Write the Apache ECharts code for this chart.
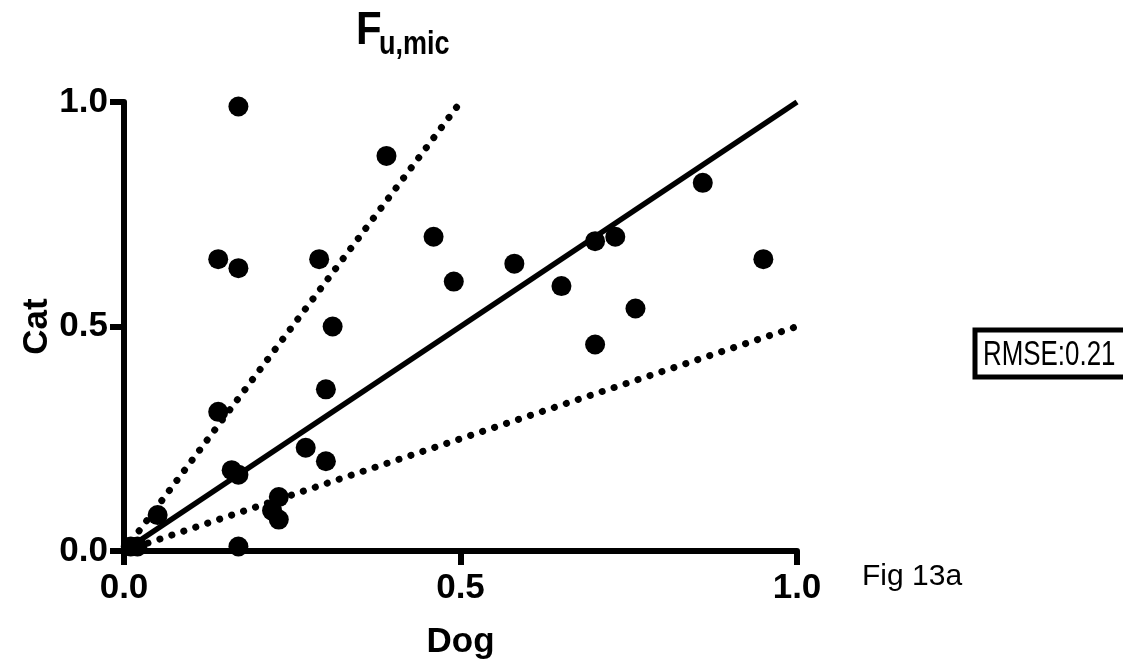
<!DOCTYPE html>
<html>
<head>
<meta charset="utf-8">
<script src="https://cdn.jsdelivr.net/npm/echarts@6/dist/echarts.min.js"></script>
<style>
html,body{margin:0;padding:0;background:#fff;}
#chart{width:1123px;height:669px;}
</style>
</head>
<body>
<div id="chart"></div>
<script>
// Data (Dog = x, Cat = y)
const dogValues = [0.17, 0.39, 0.14, 0.17, 0.29, 0.46, 0.49, 0.31, 0.30, 0.14, 0.16, 0.17, 0.27, 0.30, 0.23, 0.22, 0.23, 0.05, 0.02, 0.01, 0.17, 0.58, 0.65, 0.70, 0.73, 0.86, 0.76, 0.70, 0.95];
const catValues = [0.99, 0.88, 0.65, 0.63, 0.65, 0.70, 0.60, 0.50, 0.36, 0.31, 0.18, 0.17, 0.23, 0.20, 0.12, 0.09, 0.07, 0.08, 0.01, 0.01, 0.01, 0.64, 0.59, 0.69, 0.70, 0.82, 0.54, 0.46, 0.65];
const identityLine = [[0, 0], [1, 1]];
const upperLine = [[0, 0], [0.5, 1]];
const lowerLine = [[0, 0], [1, 0.5]];
const tickValues = [0, 0.5, 1.0];
const tickLabels = ['0.0', '0.5', '1.0'];
const titleMain = 'F';
const titleSub = 'u,mic';
const xName = 'Dog';
const yName = 'Cat';
const rmseText = 'RMSE:0.21';
const figText = 'Fig 13a';

const points = dogValues.map((d, i) => [d, catValues[i]]);
const FONT = '"Liberation Sans", Arial, sans-serif';

function fmt(v) {
  const idx = tickValues.findIndex(t => Math.abs(t - v) < 1e-9);
  return idx >= 0 ? tickLabels[idx] : '';
}

const axisCommon = {
  type: 'value', min: 0, max: 1, interval: 0.5,
  nameLocation: 'middle',
  nameMoveOverlap: false,
  nameTextStyle: { fontFamily: FONT, fontWeight: 'bold', fontSize: 35, color: '#000' },
  axisLine: { show: true, onZero: false, lineStyle: { color: '#000', width: 6 } },
  axisTick: { show: true, inside: false, length: 14, lineStyle: { color: '#000', width: 6 } },
  axisLabel: { fontFamily: FONT, fontWeight: 'bold', fontSize: 35, color: '#000', formatter: fmt },
  splitLine: { show: false }
};

const chart = echarts.init(document.getElementById('chart'), null, { renderer: 'canvas' });
chart.setOption({
  backgroundColor: '#fff',
  animation: false,
  grid: { left: 124, right: 326, top: 102, bottom: 118, containLabel: false },
  xAxis: Object.assign({}, axisCommon, {
    name: xName, nameGap: 74,
    axisLabel: Object.assign({}, axisCommon.axisLabel, { margin: 20 })
  }),
  yAxis: Object.assign({}, axisCommon, {
    name: yName, nameGap: 69, nameRotate: 90,
    axisLabel: Object.assign({}, axisCommon.axisLabel, { margin: 16 })
  }),
  series: [
    {
      type: 'line', data: identityLine, showSymbol: false, symbol: 'none',
      lineStyle: { color: '#000', width: 5.5 }, z: 2
    },
    {
      type: 'line', data: upperLine, showSymbol: false, symbol: 'none',
      lineStyle: { color: '#000', width: 7, type: [0.1, 12.5], cap: 'round' }, z: 2
    },
    {
      type: 'line', data: lowerLine, showSymbol: false, symbol: 'none',
      lineStyle: { color: '#000', width: 7, type: [0.1, 12.5], cap: 'round' }, z: 2
    },
    {
      type: 'scatter', data: points, symbol: 'circle', symbolSize: 20,
      itemStyle: { color: '#000', opacity: 1 }, z: 3
    }
  ],
  graphic: [
    { type: 'text', x: 356, y: 8, scaleY: 1.12, style: { text: titleMain, fontFamily: FONT, fontWeight: 'bold', fontSize: 42, fill: '#000' } },
    { type: 'text', x: 379, y: 28, scaleY: 1.25, style: { text: titleSub, fontFamily: FONT, fontWeight: 'bold', fontSize: 27, fill: '#000' } },
    { type: 'rect', shape: { x: 975, y: 330, width: 152, height: 47 }, style: { fill: '#fff', stroke: '#000', lineWidth: 5 } },
    { type: 'text', x: 983, y: 338, scaleX: 0.74, style: { text: rmseText, fontFamily: FONT, fontSize: 35, fill: '#000' } },
    { type: 'text', left: 862, top: 562, style: { text: figText, fontFamily: FONT, fontSize: 30, fill: '#000' } }
  ]
});
</script>
</body>
</html>
